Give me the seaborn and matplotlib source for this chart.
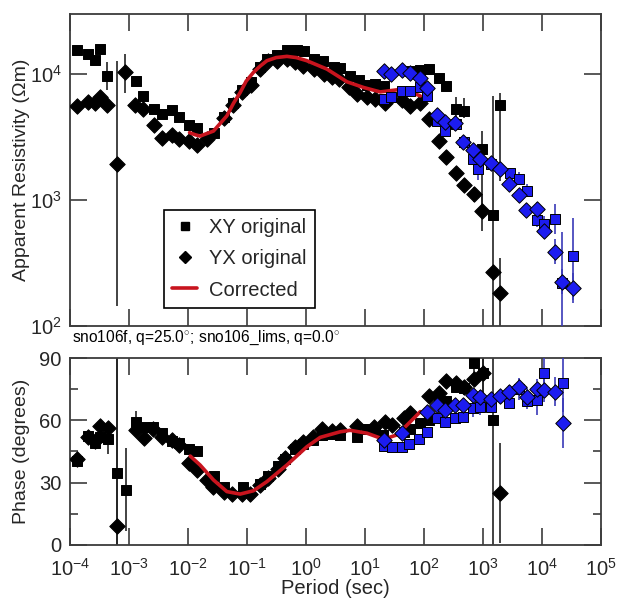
import numpy as np
import pandas as pd
import matplotlib
matplotlib.use("Agg")
import matplotlib.pyplot as plt
from matplotlib.lines import Line2D
from matplotlib.ticker import LogLocator, NullLocator, MultipleLocator, FixedLocator
import seaborn as sns

# ---------------- apparent resistivity (Ohm m) ----------------
xy_rho_period = [1.33e-4, 2.0e-4, 2.65e-4, 3.27e-4, 4.3e-4, 1.30e-3, 1.75e-3, 2.63e-3, 3.6e-3,
                 5.3e-3, 7.1e-3, 1.04e-2, 1.43e-2, 2.77e-2, 4.1e-2, 5.75e-2, 8.2e-2, 0.116,
                 0.167, 0.222, 0.321, 0.474, 0.70, 0.93, 1.38, 1.94, 2.93, 3.8, 5.6, 7.8, 10.8,
                 14.9, 20.6, 58.5, 86.5, 119.7, 177, 239, 353, 483, 964, 1460, 1970]
xy_rho = [15600, 14400, 13000, 15800, 9600, 8750, 6710, 5260, 4800, 5160, 4600, 3930, 3730,
          3430, 4600, 5870, 7500, 8690, 11430, 13180, 14270, 15630, 15630, 15170, 13180, 12770,
          11300, 11100, 9590, 9010, 8170, 8320, 8070, 10620, 10820, 10960, 9250, 7980, 5260,
          5100, 2520, 765, 5660]
# error half-widths in decades (below, above)
xy_rho_err_lo = [0, 0, 0, 0, 0.11, 0, 0, 0, 0, 0, 0, 0, 0, 0, 0, 0, 0, 0, 0, 0, 0, 0, 0, 0, 0,
                 0, 0, 0, 0, 0, 0, 0, 0, 0, 0, 0, 0, 0, 0.06, 0.06, 0.45, 1.5, 0.6]
xy_rho_err_hi = [0, 0, 0, 0, 0.11, 0, 0, 0, 0, 0, 0, 0, 0, 0, 0, 0, 0, 0, 0, 0, 0, 0, 0, 0, 0,
                 0, 0, 0, 0, 0, 0, 0, 0, 0, 0, 0, 0, 0, 0.10, 0.10, 0.15, 0.94, 0.10]

yx_rho_period = [1.33e-4, 2.0e-4, 2.65e-4, 3.27e-4, 4.3e-4, 6.34e-4, 8.57e-4, 1.27e-3, 1.75e-3,
                 2.63e-3, 3.6e-3, 5.3e-3, 7.1e-3, 1.04e-2, 1.43e-2, 2.08e-2, 4.1e-2, 5.75e-2,
                 8.2e-2, 0.116, 0.167, 0.231, 0.321, 0.474, 0.656, 0.906, 1.34, 1.98, 2.75,
                 3.56, 5.26, 7.3, 10.8, 14.9, 22.0, 42.4, 58.5, 86.5, 119.7, 177, 239, 353,
                 470, 713, 964, 1460, 1970]
yx_rho = [5590, 6010, 5870, 6520, 5660, 1940, 10310, 5660, 5260, 3930, 3130, 3270, 3040, 2930,
          2720, 3080, 4520, 5660, 7150, 8170, 10960, 12770, 12770, 13180, 12400, 11650, 10960,
          10000, 9410, 9120, 7830, 6930, 6520, 6320, 5870, 6240, 5590, 5870, 4440, 2940, 2210,
          1650, 1306, 1107, 815, 266, 182]
yx_rho_err_lo = [0, 0, 0, 0, 0, 1.13, 0.16, 0, 0, 0, 0, 0, 0, 0, 0, 0, 0, 0, 0, 0, 0, 0, 0, 0,
                 0, 0, 0, 0, 0, 0, 0, 0, 0, 0, 0, 0, 0, 0, 0, 0, 0, 0, 0, 0.06, 0.16, 0, 0.4]
yx_rho_err_hi = [0, 0, 0, 0, 0, 0.82, 0.15, 0, 0, 0, 0, 0, 0, 0, 0, 0, 0, 0, 0, 0, 0, 0, 0, 0,
                 0, 0, 0, 0, 0, 0, 0, 0, 0, 0, 0, 0, 0, 0, 0, 0, 0, 0, 0, 0.06, 0.14, 0, 0.28]

lims_xy_rho_period = [20.6, 27.9, 42.4, 57, 84.2, 112, 166, 224, 353, 477, 678, 811, 1370,
                      2830, 4140, 5590, 8260, 11000, 16900, 21900, 33200]
lims_xy_rho = [6400, 6590, 7360, 7360, 7830, 6710, 4250, 3530, 4000, 2870, 2100, 1750, 1950,
               1630, 1475, 1190, 700, 650, 709, 221, 361]
lims_xy_rho_err_lo = [0, 0, 0, 0, 0, 0, 0, 0, 0, 0, 0.03, 0.08, 0.04, 0.04, 0.05, 0.05, 0.06,
                      0.06, 0.12, 0.5, 0.35]
lims_xy_rho_err_hi = [0, 0, 0, 0, 0, 0, 0, 0, 0, 0, 0.03, 0.08, 0.04, 0.04, 0.05, 0.05, 0.06,
                      0.06, 0.12, 0.4, 0.3]

lims_yx_rho_period = [20.6, 27.9, 42.4, 57, 84.2, 112, 166, 224, 340, 459, 678, 902, 1370,
                      1970, 2800, 4030, 5430, 8260, 11000, 16900, 21900, 33200]
lims_yx_rho = [10620, 10000, 10760, 10180, 9250, 7690, 4710, 4170, 4070, 2890, 2480, 2130,
               1980, 1770, 1330, 1090, 840, 855, 564, 389, 225, 200]
lims_yx_rho_err_lo = [0, 0, 0, 0, 0, 0, 0, 0, 0, 0, 0, 0, 0, 0, 0.03, 0.04, 0.04, 0.05, 0.05,
                      0.1, 0.1, 0.12]
lims_yx_rho_err_hi = [0, 0, 0, 0, 0, 0, 0, 0, 0, 0, 0, 0, 0, 0, 0.03, 0.04, 0.04, 0.05, 0.05,
                      0.1, 0.1, 0.12]

corrected_rho_period = [0.0106, 0.0132, 0.0160, 0.0270, 0.0455, 0.059, 0.0765, 0.0968, 0.1286,
                        0.167, 0.217, 0.312, 0.474, 0.682, 1.035, 2.26, 4.94, 9.45, 18.1, 34.8,
                        58.6, 86.5]
corrected_rho = [3430, 3300, 3220, 3530, 4660, 5870, 7140, 8800, 10320, 11580, 12770, 13530,
                 13830, 13530, 12770, 10960, 8690, 7830, 7220, 7500, 7220, 6710]

# ---------------- phase (degrees) ----------------
xy_phase_period = [1.33e-4, 2.0e-4, 2.65e-4, 3.27e-4, 4.45e-4, 6.34e-4, 8.8e-4, 1.30e-3, 1.8e-3,
                   2.59e-3, 3.6e-3, 5.3e-3, 7.1e-3, 1.04e-2, 1.43e-2, 0.0273, 0.0409, 0.0851,
                   0.167, 0.229, 0.338, 0.444, 0.656, 0.897, 1.33, 1.88, 2.75, 3.8, 7.3, 10.8,
                   14.9, 20.4, 45.1, 58.6, 86.5, 120, 177, 239, 353, 483, 713, 1002, 1460]
xy_phase = [40.4, 52.5, 49.2, 51.8, 50.9, 34.5, 26.5, 59.4, 57, 57, 53.8, 50.2, 48.9, 46, 45.4,
            33, 28, 28.1, 29.5, 33, 38, 41.5, 46, 48.5, 50.5, 53, 53.5, 52.9, 52.1, 55.7, 55.3,
            53, 54.5, 55.7, 58.6, 60.2, 68.2, 69.5, 76.2, 75.4, 87.4, 82.6, 60.2]
xy_phase_err = [0, 0, 0, 0, 7, 60, 20, 5, 0, 0, 0, 0, 0, 0, 0, 0, 0, 0, 0, 0, 0, 0, 0, 0, 0, 0,
                0, 0, 0, 0, 0, 0, 0, 0, 0, 0, 0, 0, 3, 3, 6, 12, 70]

yx_phase_period = [1.33e-4, 2.0e-4, 2.65e-4, 3.27e-4, 4.45e-4, 6.34e-4, 1.30e-3, 1.8e-3, 2.59e-3,
                   3.6e-3, 5.3e-3, 7.1e-3, 1.04e-2, 1.43e-2, 0.0208, 0.027, 0.0409, 0.0553,
                   0.0818, 0.113, 0.167, 0.229, 0.338, 0.444, 0.656, 0.897, 1.33, 1.88, 2.75,
                   3.8, 7.3, 14.0, 22.0, 28.7, 45.1, 58.6, 120, 177, 239, 353, 483, 713, 1002,
                   1970]
yx_phase = [41.2, 52, 50, 57.3, 56.2, 9.1, 55.3, 51.6, 56, 52, 50.5, 48, 39.3, 36.1, 31.3, 27.8,
            25.5, 24.7, 24.4, 24.7, 29, 32.2, 36.5, 42, 47, 49.5, 52, 56, 54.9, 55.3, 57.3, 56.6,
            59.3, 57.8, 61, 63.7, 71.7, 73.3, 79.1, 77.8, 76.2, 79.7, 82.6, 24.9]
yx_phase_err = [0, 0, 0, 0, 0, 85, 0, 0, 0, 0, 0, 0, 0, 0, 0, 0, 0, 0, 0, 0, 0, 0, 0, 0, 0, 0,
                0, 0, 0, 0, 0, 0, 0, 0, 0, 0, 0, 0, 0, 0, 0, 0, 10, 24]

lims_xy_phase_period = [20.6, 28.7, 41.6, 55.4, 81.9, 112, 166, 229, 340, 466, 678, 902, 1370,
                        2710, 4030, 5560, 8260, 11000, 22300]
lims_xy_phase = [47.6, 47.3, 47.0, 48.6, 50.9, 54.5, 61, 59.3, 61, 61.5, 65.8, 66.6, 66.6, 68.5,
                 74.9, 69.5, 69.8, 82.9, 78.1]
lims_xy_phase_err = [0, 0, 0, 0, 0, 0, 0, 0, 0, 0, 4, 4, 3, 3, 5, 4, 7, 10, 14]

lims_yx_phase_period = [20.6, 41.6, 112, 166, 229, 340, 466, 678, 902, 1370, 1970, 2710, 4030,
                        5560, 8260, 11000, 16300, 22300]
lims_yx_phase = [50.5, 54, 64.2, 67.4, 65, 67.4, 67.4, 72.2, 71.4, 70.1, 71.7, 73.8, 76.2, 71.4,
                 74.9, 74.6, 73.8, 58.6]
lims_yx_phase_err = [0, 0, 0, 0, 0, 0, 0, 3, 3, 3, 3, 3, 4, 4, 5, 6, 7, 12]

corrected_phase_period = [0.0109, 0.016, 0.027, 0.0455, 0.0765, 0.1286, 0.217, 0.474, 1.035,
                          1.74, 3.8, 5.6, 10.8, 20.6, 34.8, 58.6, 86.5]
corrected_phase = [42.8, 38.5, 31.3, 25.7, 24.5, 26.1, 30.5, 38.5, 47.3, 51.8, 54.5, 55.2, 53.8,
                   50.9, 53, 59.3, 64.2]

period_ticks = [1e-4, 1e-3, 1e-2, 1e-1, 1e0, 1e1, 1e2, 1e3, 1e4, 1e5]

# ---------------- styling ----------------
sns.set_theme(style="ticks")
plt.rcParams["font.family"] = ["Liberation Sans", "DejaVu Sans"]
plt.rcParams["mathtext.fontset"] = "custom"
plt.rcParams["mathtext.rm"] = "Liberation Sans"
plt.rcParams["mathtext.it"] = "Liberation Sans:italic"

AXIS_COLOR = "#3c3c3c"
BLUE = "#1c1cf0"
RED = "#c8141e"

fig = plt.figure(figsize=(6.17, 5.99), dpi=100)
ax_rho = fig.add_axes([0.1135, 0.4558, 0.8606, 0.5208])
ax_ph = fig.add_axes([0.1135, 0.0902, 0.8606, 0.3121])


def series(periods, values, lo=None, hi=None):
    df = pd.DataFrame({"period": periods, "value": values})
    df["lo"] = lo if lo is not None else 0.0
    df["hi"] = hi if hi is not None else 0.0
    return df


def draw(ax, df, marker, face, size, z, err_color, log_err):
    with_err = df[(df["lo"] > 0) | (df["hi"] > 0)]
    if len(with_err):
        v = with_err["value"].to_numpy()
        if log_err:
            lower = v - v / 10 ** with_err["lo"].to_numpy()
            upper = v * 10 ** with_err["hi"].to_numpy() - v
        else:
            lower = with_err["lo"].to_numpy()
            upper = with_err["hi"].to_numpy()
        ax.errorbar(with_err["period"], v, yerr=[lower, upper], fmt="none",
                    ecolor=err_color, elinewidth=1.2, capsize=0, zorder=z - 0.5)
    sns.scatterplot(data=df, x="period", y="value", marker=marker, color=face,
                    edgecolor="black", linewidth=0.7, s=size, ax=ax, zorder=z, legend=False)


SQ, DM = 48, 62

# resistivity panel
draw(ax_rho, series(xy_rho_period, xy_rho, xy_rho_err_lo, xy_rho_err_hi), "s", "black", SQ, 3, "#222222", True)
draw(ax_rho, series(yx_rho_period, yx_rho, yx_rho_err_lo, yx_rho_err_hi), "D", "black", DM, 3, "#222222", True)
sns.lineplot(x=corrected_rho_period, y=corrected_rho, color=RED, linewidth=2.6, ax=ax_rho,
             zorder=4, sort=True)
draw(ax_rho, series(lims_xy_rho_period, lims_xy_rho, lims_xy_rho_err_lo, lims_xy_rho_err_hi), "s", BLUE, SQ, 5, "#3a3ab8", True)
draw(ax_rho, series(lims_yx_rho_period, lims_yx_rho, lims_yx_rho_err_lo, lims_yx_rho_err_hi), "D", BLUE, DM, 5, "#3a3ab8", True)

# phase panel
draw(ax_ph, series(xy_phase_period, xy_phase, xy_phase_err, xy_phase_err), "s", "black", SQ, 3, "#222222", False)
draw(ax_ph, series(yx_phase_period, yx_phase, yx_phase_err, yx_phase_err), "D", "black", DM, 3, "#222222", False)
sns.lineplot(x=corrected_phase_period, y=corrected_phase, color=RED, linewidth=2.6, ax=ax_ph,
             zorder=4, sort=True)
draw(ax_ph, series(lims_xy_phase_period, lims_xy_phase, lims_xy_phase_err, lims_xy_phase_err), "s", BLUE, SQ, 5, "#3a3ab8", False)
draw(ax_ph, series(lims_yx_phase_period, lims_yx_phase, lims_yx_phase_err, lims_yx_phase_err), "D", BLUE, DM, 5, "#3a3ab8", False)

# axes
for ax in (ax_rho, ax_ph):
    ax.set_xscale("log")
    ax.set_xlim(1e-4, 1e5)
    ax.xaxis.set_major_locator(FixedLocator(period_ticks))
    ax.xaxis.set_minor_locator(NullLocator())
    for sp in ax.spines.values():
        sp.set_color(AXIS_COLOR)
        sp.set_linewidth(1.3)
        sp.set_visible(True)
    ax.tick_params(which="major", direction="in", length=12, width=1.2, color=AXIS_COLOR,
                   top=True, right=True, labelsize=14.5, pad=6)
    ax.tick_params(which="minor", direction="in", length=6, width=1.2, color=AXIS_COLOR,
                   top=True, right=True)
    ax.set_facecolor("white")

ax_rho.set_yscale("log")
ax_rho.set_ylim(100, 30000)
ax_rho.yaxis.set_major_locator(LogLocator(base=10, numticks=10))
ax_rho.yaxis.set_minor_locator(NullLocator())
ax_rho.tick_params(axis="x", labelbottom=False)
ax_rho.set_xlabel("")
ax_rho.set_ylabel("Apparent Resistivity (Ωm)", fontsize=14)
ax_rho.yaxis.set_label_coords(-0.075, 0.5)

ax_ph.set_ylim(0, 90)
ax_ph.yaxis.set_major_locator(MultipleLocator(30))
ax_ph.yaxis.set_minor_locator(MultipleLocator(15))
ax_ph.tick_params(axis="x", pad=9)
ax_ph.set_xlabel("Period (sec)", fontsize=14.5, labelpad=0)
ax_ph.set_ylabel("Phase (degrees)", fontsize=14)
ax_ph.yaxis.set_label_coords(-0.075, 0.5)

handles = [
    Line2D([], [], marker="s", color="black", linestyle="none", markersize=6),
    Line2D([], [], marker="D", color="black", linestyle="none", markersize=6),
    Line2D([], [], color=RED, linewidth=2.6),
]
leg = ax_rho.legend(handles, ["XY original", "YX original", "Corrected"],
                    loc="lower left", bbox_to_anchor=(0.177, 0.059), borderaxespad=0,
                    fontsize=14.5, frameon=True, fancybox=False, edgecolor="black",
                    framealpha=1, borderpad=0.4, handlelength=1.25, handletextpad=0.6,
                    labelspacing=0.6)
leg.get_frame().set_linewidth(1.2)
leg.set_zorder(10)

fig.text(0.1167, 0.4357, "sno106f, q=25.0$^{\\circ}$; sno106_lims, q=0.0$^{\\circ}$",
         fontsize=11.2, va="center", ha="left", color="black")

fig.savefig("out.png", dpi=100, facecolor="white")
